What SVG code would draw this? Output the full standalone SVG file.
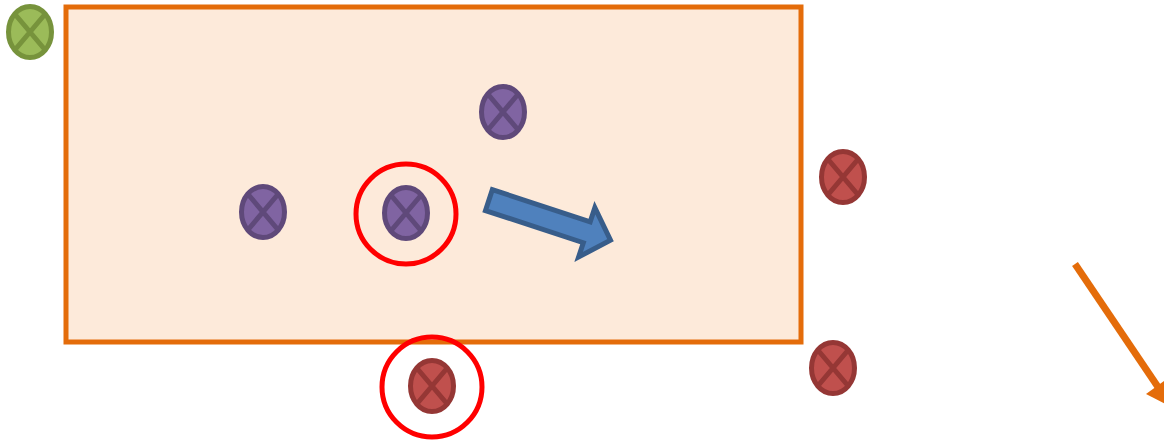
<svg xmlns="http://www.w3.org/2000/svg" width="1164" height="441" viewBox="0 0 1164 441">
  <style>
    .frame { fill: #FDEADA; stroke: #E46C0A; stroke-width: 5; }
    .junction { stroke-width: 5; }
    .green { fill: #9BBB59; stroke: #77933C; }
    .purple { fill: #8064A2; stroke: #5F497A; }
    .red { fill: #C0504D; stroke: #953735; }
    .ring { fill: none; stroke: #FF0000; stroke-width: 5; }
    .move { fill: #4F81BD; stroke: #385D8A; stroke-width: 5; stroke-linejoin: miter; }
    .trend { stroke: #E46C0A; stroke-width: 7; fill: none; }
    .trend-head { fill: #E46C0A; }
  </style>
  <defs>
    <!-- summing junction: ellipse with an X across it; colours come from the using group -->
    <g id="xmark">
      <ellipse cx="0" cy="0" rx="21.5" ry="25.5"/>
      <path fill="none" d="M-15.2,-18 L15.2,18 M15.2,-18 L-15.2,18"/>
    </g>
  </defs>

  <g id="region">
    <rect class="frame" x="66" y="7" width="735" height="335"/>
  </g>

  <g id="node-green" class="junction green">
    <use href="#xmark" x="30" y="32"/>
  </g>
  <g id="node-purple-top" class="junction purple">
    <use href="#xmark" x="503" y="112"/>
  </g>
  <g id="node-purple-left" class="junction purple">
    <use href="#xmark" x="263" y="212"/>
  </g>
  <g id="node-purple-center">
    <use class="junction purple" href="#xmark" x="406" y="213"/>
    <circle class="ring" cx="406" cy="214" r="50"/>
  </g>
  <g id="node-red-bottom">
    <use class="junction red" href="#xmark" x="432" y="386"/>
    <circle class="ring" cx="432" cy="387" r="50"/>
  </g>
  <g id="node-red-upper" class="junction red">
    <use href="#xmark" x="843" y="177"/>
  </g>
  <g id="node-red-lower" class="junction red">
    <use href="#xmark" x="833" y="368"/>
  </g>

  <g id="connectors">
    <!-- block arrow showing motion -->
    <path class="move" transform="translate(487,199.5) rotate(18.2)"
          d="M2,-11 L105,-11 L105,-26 L130,0 L105,26 L105,11 L2,11 Z"/>
    <!-- orange line arrow running off the right edge -->
    <line class="trend" x1="1075" y1="264" x2="1158" y2="387"/>
    <polygon class="trend-head" points="1146,394 1168,378 1171,407"/>
  </g>
</svg>
